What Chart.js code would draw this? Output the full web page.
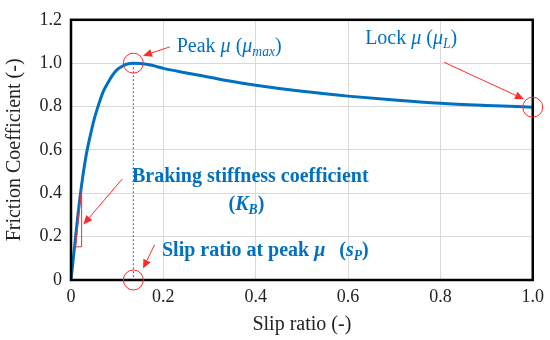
<!DOCTYPE html>
<html lang="en">
  <head>
    <meta charset="UTF-8" />
    <title>Friction vs slip</title>
    <script src="https://cdn.jsdelivr.net/npm/chart.js"></script>
    <style>
      body { margin: 0; background: #fff; }
      #chart-container { width: 550px; height: 340px; }
    </style>
  </head>
  <body>
    <div id="chart-container">
      <canvas id="myChart"></canvas>
    </div>

    <script>
      // values
      const slipRatio = [0, 0.005, 0.01, 0.015, 0.02, 0.025, 0.03, 0.035, 0.04, 0.05, 0.06, 0.07, 0.08, 0.09, 0.1, 0.11, 0.12, 0.135, 0.15, 0.175, 0.2, 0.25, 0.3, 0.35, 0.4, 0.5, 0.6, 0.7, 0.8, 0.9, 1.0];
      const frictionCoef = [0, 0.1, 0.2, 0.3, 0.39, 0.47, 0.54, 0.6, 0.65, 0.74, 0.81, 0.87, 0.91, 0.945, 0.97, 0.985, 0.995, 1.0, 0.998, 0.99, 0.976, 0.955, 0.935, 0.915, 0.898, 0.87, 0.848, 0.83, 0.815, 0.805, 0.797];
      const xTicks = [0, 0.2, 0.4, 0.6, 0.8, 1.0];
      const yTicks = [0, 0.2, 0.4, 0.6, 0.8, 1.0, 1.2];

      // marked points (slip, mu)
      const peakPoint = [0.135, 1.0];
      const lockPoint = [1.0, 0.797];
      const slipPoint = [0.135, 0];
      const stiffTriangle = [[0.010, 0.153], [0.023, 0.153], [0.023, 0.421]];

      const blue = "#0070C0";
      const red = "#FF2A2A";
      const serif = "'Liberation Serif', 'DejaVu Serif', serif";

      function richText(ctx, parts, x, y, size, align) {
        const seg = parts.map((p) => {
          const fs = p.sub ? size * 0.68 : size;
          const font = (p.i ? "italic " : "") + (p.b ? "bold " : "") + fs + "px " + serif;
          ctx.font = font;
          return { t: p.t, font, w: ctx.measureText(p.t).width, dy: p.sub ? size * 0.28 : 0 };
        });
        const total = seg.reduce((s, p) => s + p.w, 0);
        let cx = align === "center" ? x - total / 2 : x;
        ctx.textBaseline = "middle";
        ctx.textAlign = "left";
        seg.forEach((p) => {
          ctx.font = p.font;
          ctx.fillText(p.t, cx, y + p.dy);
          cx += p.w;
        });
      }

      function arrow(ctx, x1, y1, x2, y2) {
        const a = Math.atan2(y2 - y1, x2 - x1);
        const len = 9, half = 4;
        ctx.beginPath();
        ctx.moveTo(x1, y1);
        ctx.lineTo(x2 - Math.cos(a) * len, y2 - Math.sin(a) * len);
        ctx.stroke();
        ctx.beginPath();
        ctx.moveTo(x2, y2);
        ctx.lineTo(x2 - Math.cos(a) * len - Math.sin(a) * half, y2 - Math.sin(a) * len + Math.cos(a) * half);
        ctx.lineTo(x2 - Math.cos(a) * len + Math.sin(a) * half, y2 - Math.sin(a) * len - Math.cos(a) * half);
        ctx.closePath();
        ctx.fill();
      }

      const annotations = {
        id: "annotations",
        beforeDatasetsDraw(chart) {
          const ctx = chart.ctx;
          const xs = chart.scales.x, ys = chart.scales.y;
          ctx.save();
          ctx.strokeStyle = blue;
          ctx.lineWidth = 1;
          ctx.setLineDash([2, 2]);
          ctx.beginPath();
          ctx.moveTo(xs.getPixelForValue(peakPoint[0]), ys.getPixelForValue(peakPoint[1]));
          ctx.lineTo(xs.getPixelForValue(slipPoint[0]), ys.getPixelForValue(slipPoint[1]));
          ctx.stroke();
          ctx.restore();
        },
        afterDraw(chart) {
          const ctx = chart.ctx;
          const xs = chart.scales.x, ys = chart.scales.y;
          const px = (v) => xs.getPixelForValue(v);
          const py = (v) => ys.getPixelForValue(v);
          const a = chart.chartArea;
          ctx.save();

          // plot frame
          ctx.strokeStyle = "#000";
          ctx.lineWidth = 2.5;
          ctx.strokeRect(a.left, a.top, a.right - a.left, a.bottom - a.top);

          // circles
          ctx.strokeStyle = red;
          ctx.fillStyle = red;
          ctx.lineWidth = 1;
          [peakPoint, lockPoint, slipPoint].forEach((p) => {
            ctx.beginPath();
            ctx.arc(px(p[0]), py(p[1]), 10, 0, Math.PI * 2);
            ctx.stroke();
          });

          // stiffness triangle
          ctx.beginPath();
          stiffTriangle.forEach((p, i) => {
            if (i === 0) ctx.moveTo(px(p[0]), py(p[1]));
            else ctx.lineTo(px(p[0]), py(p[1]));
          });
          ctx.closePath();
          ctx.stroke();

          // arrows
          arrow(ctx, px(0.214), py(1.075), px(0.156), py(1.034));
          arrow(ctx, px(0.808), py(1.004), px(0.981), py(0.834));
          arrow(ctx, px(0.181), py(0.162), px(0.156), py(0.053));
          arrow(ctx, px(0.111), py(0.466), px(0.027), py(0.256));

          // labels
          ctx.fillStyle = blue;
          richText(ctx, [{ t: "Peak " }, { t: "\u03bc", i: 1 }, { t: " (" }, { t: "\u03bc", i: 1 }, { t: "max", i: 1, sub: 1 }, { t: ")" }], px(0.229), py(1.074), 20);
          richText(ctx, [{ t: "Lock " }, { t: "\u03bc", i: 1 }, { t: " (" }, { t: "\u03bc", i: 1 }, { t: "L", i: 1, sub: 1 }, { t: ")" }], px(0.637), py(1.114), 20);
          richText(ctx, [{ t: "Braking stiffness coefficient", b: 1 }], px(0.132), py(0.474), 20);
          richText(ctx, [{ t: "(", b: 1 }, { t: "K", b: 1, i: 1 }, { t: "B", b: 1, i: 1, sub: 1 }, { t: ")", b: 1 }], px(0.38), py(0.347), 20, "center");
          richText(ctx, [{ t: "Slip ratio at peak ", b: 1 }, { t: "\u03bc", b: 1, i: 1 }], px(0.197), py(0.135), 20);
          richText(ctx, [{ t: "(", b: 1 }, { t: "s", b: 1, i: 1 }, { t: "P", b: 1, i: 1, sub: 1 }, { t: ")", b: 1 }], px(0.581), py(0.135), 20);
          ctx.restore();
        },
      };

      const ctx = document.getElementById("myChart").getContext("2d");
      const myChart = new Chart(ctx, {
        type: "line",
        data: {
          datasets: [
            {
              data: slipRatio.map((x, i) => ({ x, y: frictionCoef[i] })),
              borderColor: blue,
              borderWidth: 3,
              pointRadius: 0,
              cubicInterpolationMode: "monotone",
              fill: false,
            },
          ],
        },
        options: {
          responsive: true,
          maintainAspectRatio: false,
          animation: false,
          layout: { padding: { top: 14, right: 16, left: 0, bottom: 0 } },
          plugins: { legend: { display: false }, tooltip: { enabled: false } },
          scales: {
            x: {
              type: "linear",
              min: 0,
              max: 1,
              afterBuildTicks: (axis) => { axis.ticks = xTicks.map((v) => ({ value: v })); },
              afterFit: (axis) => { axis.height = 60; },
              ticks: {
                color: "#222",
                padding: 6,
                maxRotation: 0,
                font: { family: serif, size: 18 },
                callback: (v) => (v === 0 ? "0" : v.toFixed(1)),
              },
              grid: { color: "#d9d9d9", drawTicks: false },
              border: { display: false },
              title: {
                display: true,
                text: "Slip ratio (-)",
                color: "#222",
                font: { family: serif, size: 20 },
                padding: { top: 0, bottom: 3 },
              },
            },
            y: {
              min: 0,
              max: 1.2,
              afterBuildTicks: (axis) => { axis.ticks = yTicks.map((v) => ({ value: v })); },
              afterFit: (axis) => { axis.width = 71; },
              ticks: {
                color: "#222",
                padding: 9,
                font: { family: serif, size: 18 },
                callback: (v) => (v === 0 ? "0" : v.toFixed(1)),
              },
              grid: { color: "#d9d9d9", drawTicks: false },
              border: { display: false },
              title: {
                display: true,
                text: "Friction Coefficient (-)",
                color: "#222",
                font: { family: serif, size: 20 },
                padding: { top: 3, bottom: 0 },
              },
            },
          },
        },
        plugins: [annotations],
      });
    </script>
  </body>
</html>
